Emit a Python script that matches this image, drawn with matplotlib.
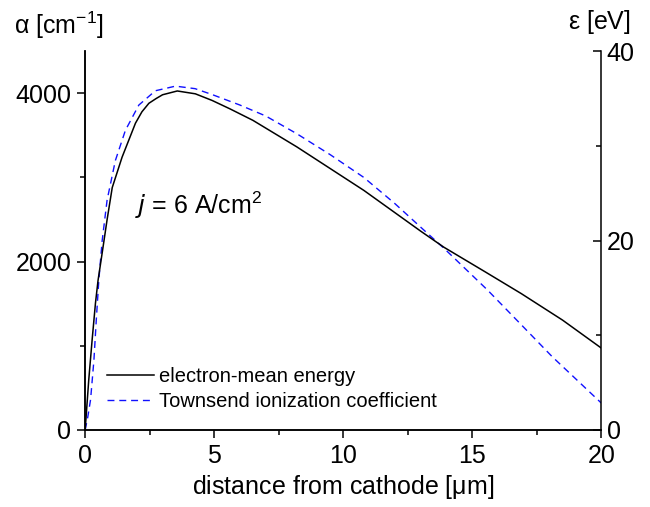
import numpy as np
import matplotlib.pyplot as plt

plt.rcParams['font.family'] = ['Liberation Sans', 'DejaVu Sans']

# electron mean energy [eV] vs distance [um]
x_energy = [0, 0.14, 0.27, 0.4, 0.5, 0.66, 0.85, 1.05, 1.43, 1.95, 2.2, 2.47, 2.75,
            3.0, 3.57, 4.27, 4.92, 5.62, 6.5, 8.2, 10.8, 13.0, 13.9, 15.5, 16.9, 18.5, 20]
energy = [0, 5.3, 9.5, 13.4, 15.8, 18.7, 22.2, 25.6, 28.8, 32.4, 33.6, 34.5, 35.0,
          35.4, 35.8, 35.5, 34.8, 33.9, 32.7, 29.9, 25.3, 21.0, 19.3, 16.7, 14.4, 11.6, 8.65]

# Townsend ionization coefficient [1/cm]
x_alpha = [0, 0.1, 0.21, 0.34, 0.43, 0.53, 0.66, 0.85, 1.0, 1.17, 1.56, 2.08, 2.72,
           3.5, 4.26, 4.92, 6.0, 7.0, 8.2, 9.5, 10.8, 12.0, 13.0, 13.9, 15.6, 16.9,
           18.1, 19.0, 20]
alpha = [0, 150, 360, 830, 1300, 1780, 2250, 2730, 2950, 3200, 3560, 3860, 4030,
         4085, 4055, 3985, 3860, 3730, 3520, 3270, 3000, 2690, 2410, 2160, 1660, 1250,
         870, 610, 320]

fig = plt.figure(figsize=(6.5, 5.07), dpi=100)
ax = fig.add_axes([0.131, 0.152, 0.794, 0.747])
ax2 = ax.twinx()

l_alpha, = ax.plot(x_alpha, alpha, color='#1010ff', lw=1.0, ls=(0, (5, 3.5)))
l_en, = ax2.plot(x_energy, energy, color='black', lw=1.1)

ax.set_xlim(0, 20)
ax.set_ylim(0, 4500)
ax2.set_ylim(0, 40)

ax.set_xticks([0, 5, 10, 15, 20])
ax.set_xticks(np.arange(2.5, 20, 5), minor=True)
ax.set_yticks([0, 2000, 4000])
ax.set_yticks([1000, 3000], minor=True)
ax2.set_yticks([0, 20, 40])
ax2.set_yticks([10, 30], minor=True)

for a in (ax, ax2):
    a.spines['top'].set_visible(False)
    for s in a.spines.values():
        s.set_linewidth(1.1)
ax.spines['right'].set_visible(False)

ax.tick_params(axis='both', which='major', direction='out', length=6, width=1.1,
               labelsize=18, pad=4)
ax.tick_params(axis='both', which='minor', direction='out', length=3.5, width=1.1)
ax2.tick_params(axis='y', which='major', direction='in', length=6, width=1.1,
                labelsize=18, pad=4)
ax2.tick_params(axis='y', which='minor', direction='in', length=3.5, width=1.1)

ax.set_xlabel('distance from cathode [$\\mathregular{\\mu}$m]', fontsize=18, labelpad=4)
fig.text(0.022, 0.951, '$\\mathregular{\\alpha}$ [cm$\\mathregular{^{-1}}$]',
         fontsize=18, ha='left', va='center')
fig.text(0.97, 0.957, '$\\mathregular{\\epsilon}$ [eV]', fontsize=18,
         ha='right', va='center')

ax.text(1.95, 2670, '$j$ = 6 A/cm$\\mathregular{^2}$', fontsize=18, ha='left', va='center')

ax.legend([l_en, l_alpha], ['electron-mean energy', 'Townsend ionization coefficient'],
          loc='lower left', bbox_to_anchor=(0.043, 0.051), frameon=False,
          fontsize=14.5, handlelength=2.3, handletextpad=0.25, labelspacing=0.3,
          borderpad=0, borderaxespad=0)

fig.savefig('out.png', dpi=100)
